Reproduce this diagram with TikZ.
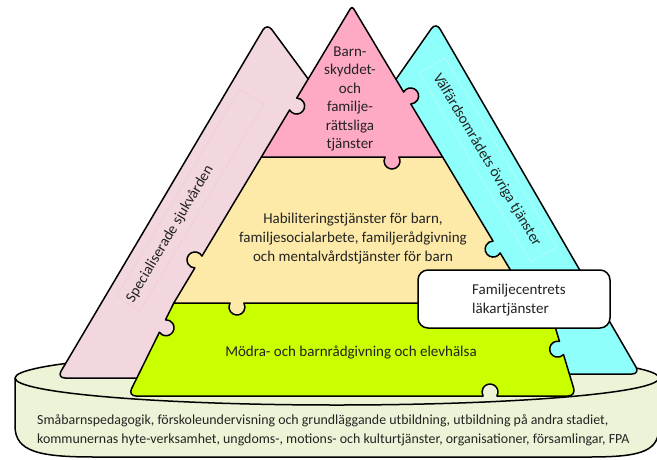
\documentclass[tikz,border=0pt]{standalone}
\usepackage{fontspec}
\setmainfont{Carlito}
\usetikzlibrary{calc}
\definecolor{pinkT}{RGB}{254,170,197}
\definecolor{yelT}{RGB}{253,234,168}
\definecolor{grnT}{RGB}{202,255,0}
\definecolor{cyaT}{RGB}{142,255,251}
\definecolor{pnkB}{RGB}{242,215,222}
\definecolor{baseC}{RGB}{236,243,214}
\definecolor{txt}{RGB}{35,35,35}
\definecolor{pframe}{RGB}{236,204,213}
\definecolor{cframe}{RGB}{200,252,250}
\newcommand\knb[3]{-- ($(#1)+(#2+180:6.93)$) arc[start angle={#2+(#3)*210}, end angle={#2-(#3)*30}, radius=8]}
\begin{document}
\begin{tikzpicture}[x=1pt,y=-1pt,line join=round,
  piece/.style={draw=black,line width=1.5pt},
  lbl/.style={font=\fontsize{15}{19}\selectfont,text=txt,inner sep=0pt}]
\useasboundingbox (0,0) rectangle (657,459);
% base disc
\draw[piece,fill=baseC] (15,378) -- (15,426) .. controls (15,452) and (40,457) .. (95,457) -- (590,457) .. controls (645,457) and (659,450) .. (659,426) -- (659,378);
\draw[piece,fill=baseC] (337,378) ellipse [x radius=322, y radius=27];
% pink side band
\draw[piece,fill=pnkB,rounded corners=8] (267,23) -- (320,95) -- (200,378) -- (57,378) -- cycle;
\node[draw=pframe,thin,rotate=59.2,minimum width=241,minimum height=28] (pfr) at (190,200) {};
% cyan side band
\draw[piece,fill=cyaT,rounded corners=8] (436,22) -- (640,374) -- (560,374) -- (385,95) -- cycle;
\node[draw=cframe,thin,rotate=-59.5,minimum width=220,minimum height=30] (cfr) at (488,160) {};
% green layer
\draw[piece,fill=grnT] (173.8,303) -- (540,303) -- (553,320) \knb{561.5,348}{73.16}{1}
  [rounded corners=8] -- (576,396) -- (520,396) [sharp corners] \knb{490,396}{180}{1}
  -- (470,396) [rounded corners=8] -- (128,396) -- (149.9,351.5) [sharp corners]
  \knb{162.47,326}{-63.78}{1} -- cycle;
% yellow layer
\draw[piece,fill=yelT] (442.6,157) -- (261.4,157) \knb{198.4,262}{120.96}{1}
  -- (173.8,303) \knb{237,303}{0}{1} -- (530.2,303) \knb{496.6,247}{-120.96}{-1} -- cycle;
% pink top triangle
\draw[piece,fill=pinkT] (261.4,157) \knb{293.2,104}{-59.04}{1} -- (313.6,70)
  [rounded corners=3] -- (352,6) -- (390,69.4) [sharp corners]
  \knb{407.2,98}{59.04}{-1} -- (442.6,157) \knb{392,157}{180}{-1} -- cycle;
% texts
\node[lbl,align=center,font=\fontsize{15}{18.5}\selectfont] (top) at (350,99)
  {Barn-\\skyddet-\\och\\familje-\\rättsliga\\tjänster};
\node[lbl,align=center] (mid) at (353,239)
  {Habiliteringstjänster för barn,\\familjesocialarbete, familjerådgivning\\och mentalvårdstjänster för barn};
\node[lbl] (low) at (351,352) {Mödra- och barnrådgivning och elevhälsa};
\node[lbl,rotate=59.2] (spec) at (170,234) {Specialiserade sjukvården};
\node[lbl,rotate=-59.2] (valf) at (487,160) {Välfärdsområdets övriga tjänster};
\node[draw=black,line width=1.5pt,fill=white,rounded corners=10,minimum width=192,minimum height=58] (box) at (514,299) {};
\node[lbl,align=left,anchor=west] (boxt) at (472,300.5) {Familjecentrets\\läkartjänster};
\node[lbl,align=left,anchor=west,font=\fontsize{13.9}{19}\selectfont] (base) at (37,430.5)
  {Småbarnspedagogik, förskoleundervisning och grundläggande utbildning, utbildning på andra stadiet,\\kommunernas hyte-verksamhet, ungdoms-, motions- och kulturtjänster, organisationer, församlingar, FPA};
\end{tikzpicture}
\end{document}
